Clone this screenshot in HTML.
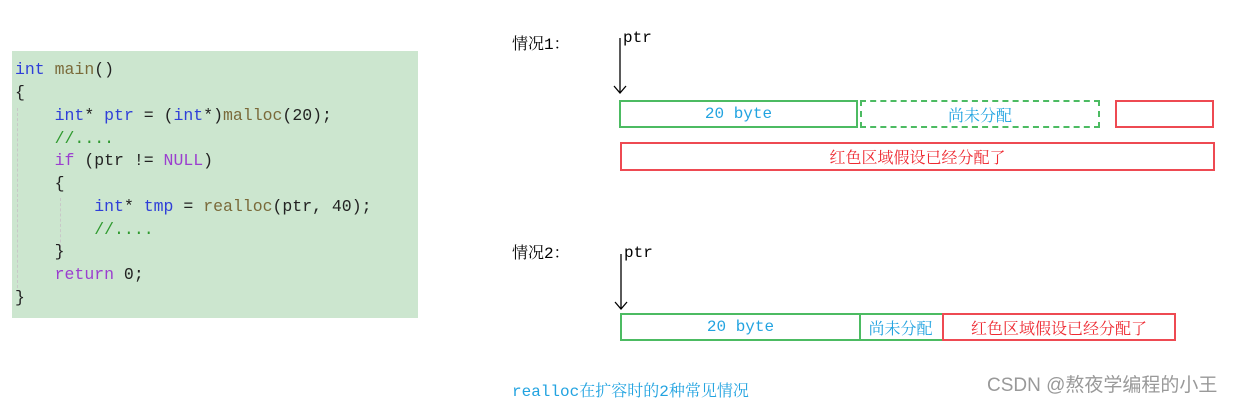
<!DOCTYPE html>
<html><head><meta charset="utf-8"><style>
body{margin:0;width:1235px;height:402px;background:#fff;position:relative;overflow:hidden;font-family:"Liberation Mono","Noto Serif CJK SC",monospace}
.code{position:absolute;left:12px;top:51px;width:406px;height:267px;background:#cce6cf}
.ln{position:absolute;left:15px;font-family:"Liberation Mono",monospace;font-size:16.5px;color:#222;white-space:pre;line-height:20px}
.k{color:#2f3fd8}.f{color:#7a6a3a}.c{color:#2f9a2f}.p{color:#9b3fcf}
.g{position:absolute;width:1px;border-left:1px dashed #c8c8c8}
.abs{position:absolute;white-space:nowrap}
.box{position:absolute;box-sizing:border-box;display:flex;align-items:center;justify-content:center;font-size:16px}
.gb{border:2px solid #4cbb62;color:#22a3e0}
.rb{border:2px solid #ee4a52;color:#ee2a32}
</style></head><body>
<div class="code"></div>
<div class="g" style="left:17px;top:108px;height:180px"></div>
<div class="g" style="left:60px;top:198px;height:60px"></div>
<div class="ln" style="top:60px"><span class="k">int</span> <span class="f">main</span>()</div>
<div class="ln" style="top:83px">{</div>
<div class="ln" style="top:106px">    <span class="k">int</span>* <span class="k">ptr</span> = (<span class="k">int</span>*)<span class="f">malloc</span>(20);</div>
<div class="ln" style="top:129px">    <span class="c">//....</span></div>
<div class="ln" style="top:151px">    <span class="p">if</span> (ptr != <span class="p">NULL</span>)</div>
<div class="ln" style="top:174px">    {</div>
<div class="ln" style="top:197px">        <span class="k">int</span>* <span class="k">tmp</span> = <span class="f">realloc</span>(ptr, 40);</div>
<div class="ln" style="top:220px">        <span class="c">//....</span></div>
<div class="ln" style="top:242px">    }</div>
<div class="ln" style="top:265px">    <span class="p">return</span> 0;</div>
<div class="ln" style="top:288px">}</div>

<div class="abs" style="left:512px;top:31px;font-size:16px">情况1：</div>
<div class="abs" style="left:623px;top:29px;font-size:16px">ptr</div>
<svg class="abs" style="left:0;top:0" width="1235" height="402">
<line x1="620" y1="38" x2="620" y2="93" stroke="#000" stroke-width="1.3"/>
<polyline points="614,86 620,93 626,86" fill="none" stroke="#000" stroke-width="1.3"/>
<line x1="621" y1="254" x2="621" y2="309" stroke="#000" stroke-width="1.3"/>
<polyline points="615,302 621,309 627,302" fill="none" stroke="#000" stroke-width="1.3"/>
</svg>
<div class="box gb" style="left:619px;top:100px;width:239px;height:28px">20 byte</div>
<div class="box gb" style="left:860px;top:100px;width:240px;height:28px;border-style:dashed">尚未分配</div>
<div class="box rb" style="left:1115px;top:100px;width:99px;height:28px"></div>
<div class="box rb" style="left:620px;top:142px;width:595px;height:29px">红色区域假设已经分配了</div>

<div class="abs" style="left:512px;top:240px;font-size:16px">情况2：</div>
<div class="abs" style="left:624px;top:244px;font-size:16px">ptr</div>
<div class="box gb" style="left:620px;top:313px;width:241px;height:28px">20 byte</div>
<div class="box gb" style="left:859px;top:313px;width:85px;height:28px;border-left:none">尚未分配</div>
<div class="box rb" style="left:942px;top:313px;width:234px;height:28px">红色区域假设已经分配了</div>

<div class="abs" style="left:512px;top:378px;font-size:16px;color:#22a3e0">realloc在扩容时的2种常见情况</div>
<div class="abs" style="left:987px;top:370px;font-size:19px;color:#999;font-family:'Liberation Sans','Noto Sans CJK SC',sans-serif">CSDN @熬夜学编程的小王</div>
</body></html>
